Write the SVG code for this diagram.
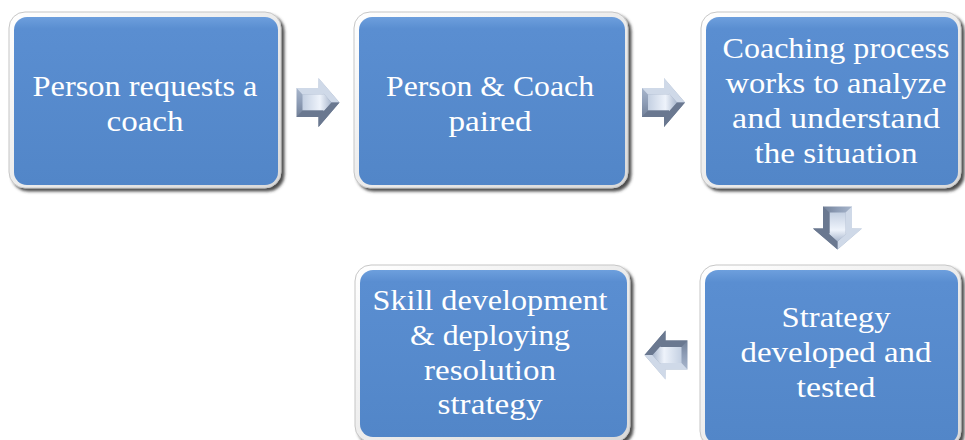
<svg xmlns="http://www.w3.org/2000/svg" width="965" height="440" viewBox="0 0 965 440">
<defs>
  <linearGradient id="blue" x1="0" y1="0" x2="0" y2="1">
    <stop offset="0" stop-color="#6d9fdd"/>
    <stop offset="0.07" stop-color="#5a8ed1"/>
    <stop offset="1" stop-color="#5286c8"/>
  </linearGradient>
  <linearGradient id="frame" x1="0" y1="0" x2="1" y2="1">
    <stop offset="0" stop-color="#ffffff"/>
    <stop offset="1" stop-color="#d9d9d9"/>
  </linearGradient>
  <linearGradient id="steel" x1="0" y1="0" x2="0" y2="1">
    <stop offset="0" stop-color="#b9c6da"/>
    <stop offset="0.5" stop-color="#8e9db6"/>
    <stop offset="1" stop-color="#5f6d84"/>
  </linearGradient>
  <linearGradient id="steelFace" x1="0" y1="0" x2="1" y2="0">
    <stop offset="0" stop-color="#c4d0e2"/>
    <stop offset="0.6" stop-color="#eef3fb"/>
    <stop offset="1" stop-color="#a9b7cd"/>
  </linearGradient>
  <filter id="shadow" x="-10%" y="-10%" width="125%" height="125%">
    <feGaussianBlur in="SourceAlpha" stdDeviation="1.5"/>
    <feOffset dx="3" dy="3" result="b"/>
    <feFlood flood-color="#3a3a3a" flood-opacity="0.9"/>
    <feComposite in2="b" operator="in"/>
    <feMerge><feMergeNode/><feMergeNode in="SourceGraphic"/></feMerge>
  </filter>
  <g id="arrow">
    <polygon points="-21,-14.5 1,-14.5 1,-24.5 22,0 1,24.5 1,14.5 -21,14.5" fill="url(#steel)"/>
    <polygon points="-21,-14.5 1,-14.5 1,-24.5 22,0 14,0 6,-9 6,-8 -15,-8" fill="#cfd9e8"/>
    <polygon points="-15,-8 6,-8 6,-9 14,0 6,9 6,8 -15,8" fill="url(#steelFace)"/>
    <polygon points="-21,14.5 -15,8 6,8 6,9 14,0 22,0 1,24.5 1,14.5" fill="#6a7890"/>
  </g>
</defs>
<style>
  .frame { fill: url(#frame); stroke: #c6c6c6; stroke-width: 1; filter: url(#shadow); }
  .box { fill: url(#blue); }
  .t { font-family: "Liberation Serif", "DejaVu Serif", serif; font-size: 29px; fill: #ffffff; text-anchor: middle; }
</style>

<g id="node1">
  <rect class="frame" x="9" y="12" width="272" height="176" rx="16"/>
  <rect class="box" x="14" y="17" width="264" height="168" rx="13"/>
  <text class="t"><tspan x="145" y="96" textLength="225" lengthAdjust="spacingAndGlyphs">Person requests a</tspan><tspan x="145" y="131" textLength="77" lengthAdjust="spacingAndGlyphs">coach</tspan></text>
</g>
<g id="node2">
  <rect class="frame" x="354" y="12" width="274" height="176" rx="16"/>
  <rect class="box" x="359" y="17" width="266" height="168" rx="13"/>
  <text class="t"><tspan x="490" y="96" textLength="208" lengthAdjust="spacingAndGlyphs">Person &amp; Coach</tspan><tspan x="490" y="131" textLength="83" lengthAdjust="spacingAndGlyphs">paired</tspan></text>
</g>
<g id="node3">
  <rect class="frame" x="701" y="12" width="260" height="176" rx="16"/>
  <rect class="box" x="706" y="17" width="252" height="168" rx="13"/>
  <text class="t"><tspan x="836" y="58" textLength="227" lengthAdjust="spacingAndGlyphs">Coaching process</tspan><tspan x="836" y="93" textLength="221" lengthAdjust="spacingAndGlyphs">works to analyze</tspan><tspan x="836" y="128" textLength="208" lengthAdjust="spacingAndGlyphs">and understand</tspan><tspan x="836" y="163" textLength="163" lengthAdjust="spacingAndGlyphs">the situation</tspan></text>
</g>
<g id="node4">
  <rect class="frame" x="700" y="265" width="261" height="182" rx="16"/>
  <rect class="box" x="705" y="270" width="253" height="174" rx="13"/>
  <text class="t"><tspan x="836" y="327" textLength="109" lengthAdjust="spacingAndGlyphs">Strategy</tspan><tspan x="836" y="362" textLength="191" lengthAdjust="spacingAndGlyphs">developed and</tspan><tspan x="836" y="397" textLength="79" lengthAdjust="spacingAndGlyphs">tested</tspan></text>
</g>
<g id="node5">
  <rect class="frame" x="355" y="265" width="275" height="177" rx="16"/>
  <rect class="box" x="360" y="270" width="267" height="167" rx="13"/>
  <text class="t"><tspan x="490" y="310" textLength="235" lengthAdjust="spacingAndGlyphs">Skill development</tspan><tspan x="490" y="345" textLength="160" lengthAdjust="spacingAndGlyphs">&amp; deploying</tspan><tspan x="490" y="380" textLength="132" lengthAdjust="spacingAndGlyphs">resolution</tspan><tspan x="490" y="414" textLength="105" lengthAdjust="spacingAndGlyphs">strategy</tspan></text>
</g>

<g id="connectors">
  <use href="#arrow" transform="translate(317.5,102.5)"/>
  <use href="#arrow" transform="translate(663,102.5)"/>
  <use href="#arrow" transform="translate(837.5,227.5) rotate(90)"/>
  <use href="#arrow" transform="translate(666.5,355) rotate(180)"/>
</g>
</svg>
